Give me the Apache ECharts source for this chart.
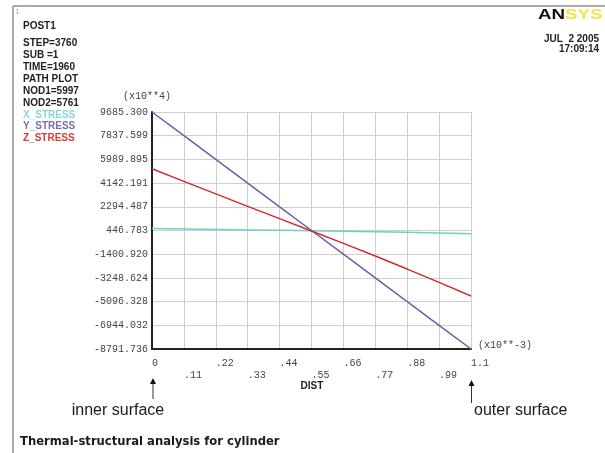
<!DOCTYPE html>
<html>
<head>
<meta charset="utf-8">
<script src="https://cdn.jsdelivr.net/npm/echarts@6/dist/echarts.min.js"></script>
<style>
html,body{margin:0;padding:0;background:#fff;}
#chart{width:605px;height:453px;}
</style>
</head>
<body>
<div id="chart"></div>
<script>
// ---- data ----
var dist = [0, 0.11, 0.22, 0.33, 0.44, 0.55, 0.66, 0.77, 0.88, 0.99, 1.1];
var xStress = [600, 565, 530, 495, 460, 425, 385, 345, 305, 255, 200];
var yStress = [9685.3, 7837.6, 5989.9, 4142.2, 2294.5, 446.8, -1400.9, -3248.6, -5096.3, -6944.0, -8791.7];
var zStress = [5260, 4280, 3300, 2330, 1370, 410, -560, -1540, -2560, -3600, -4660];
var xTickLabels = ['0', '.11', '.22', '.33', '.44', '.55', '.66', '.77', '.88', '.99', '1.1'];
var yTickLabels = ['-8791.736', '-6944.032', '-5096.328', '-3248.624', '-1400.920', '446.783',
                   '2294.487', '4142.191', '5989.895', '7837.599', '9685.300'];
var infoLines = ['STEP=3760', 'SUB =1', 'TIME=1960', 'PATH PLOT', 'NOD1=5997', 'NOD2=5761'];
var seriesNames = ['X_STRESS', 'Y_STRESS', 'Z_STRESS'];
var seriesColors = ['#72cccc', '#6e5ea6', '#d02c2c'];
var legendColors = ['#8ad6d6', '#7c6cb0', '#d83a3a'];

var yMin = -8791.736, yMax = 9685.3;
var yInterval = (yMax - yMin) / 10;
var xMin = 0, xMax = 1.1, xInterval = 0.11;

function pairs(vals) { return dist.map(function (d, i) { return [d, vals[i]]; }); }
function xIdx(v) { return Math.round((v - xMin) / xInterval); }

var mono = 'Liberation Mono';
var chart = echarts.init(document.getElementById('chart'), null, {renderer: 'canvas'});

var graphics = [];
// frame
graphics.push({type: 'line', shape: {x1: 13, y1: 6, x2: 605, y2: 6}, style: {stroke: '#aaaaaa', lineWidth: 2}, silent: true});
graphics.push({type: 'line', shape: {x1: 13, y1: 6, x2: 13, y2: 453}, style: {stroke: '#aaaaaa', lineWidth: 2}, silent: true});
function txt(t, x, y, font, fill, align) {
  graphics.push({type: 'text', x: x, y: y, silent: true,
    style: {text: t, font: font, fill: fill, align: align || 'left', textAlign: align || 'left',
            verticalAlign: 'middle', textVerticalAlign: 'middle'}});
}
txt('1', 15, 12, '8px Liberation Sans', '#66cccc');
txt('POST1', 23, 26, 'bold 10px Liberation Sans', '#222');
infoLines.forEach(function (s, i) { txt(s, 23, 43 + i * 12, 'bold 10px Liberation Sans', '#222'); });
seriesNames.forEach(function (s, i) { txt(s, 23, 115 + i * 11.7, 'bold 10px Liberation Sans', legendColors[i]); });
txt('(x10**4)', 147, 96, '10px ' + mono, '#444', 'center');
txt('(x10**-3)', 478, 345, '10px ' + mono, '#444');
txt('DIST', 312, 386, 'bold 10px Liberation Sans', '#222', 'center');
txt('inner surface', 118, 411, '16px Liberation Sans', '#1a1a1a', 'center');
txt('outer surface', 474, 411, '16px Liberation Sans', '#1a1a1a');
txt('Thermal-structural analysis for cylinder', 20, 442, 'bold 11.6px DejaVu Sans', '#1a1a1a');
txt('JUL  2 2005', 599, 39, 'bold 10px Liberation Sans', '#222', 'right');
txt('17:09:14', 599, 49.5, 'bold 10px Liberation Sans', '#222', 'right');
// logo
graphics.push({type: 'text', x: 538, y: 15, scaleX: 1.25, silent: true,
  style: {text: '{a|AN}{b|SYS}', font: 'bold 15px Liberation Sans', verticalAlign: 'middle', textVerticalAlign: 'middle',
    rich: {a: {fill: '#111', color: '#111', font: 'bold 15px Liberation Sans'},
           b: {fill: '#f2e64a', color: '#f2e64a', font: 'bold 15px Liberation Sans'}}}});
// arrows
function arrow(x, yTip, yEnd) {
  graphics.push({type: 'line', shape: {x1: x, y1: yTip + 4, x2: x, y2: yEnd}, style: {stroke: '#333', lineWidth: 1}, silent: true});
  graphics.push({type: 'polygon', shape: {points: [[x, yTip], [x - 3, yTip + 6], [x + 3, yTip + 6]]}, style: {fill: '#111'}, silent: true});
}
arrow(153, 378, 399);
arrow(471.5, 380, 403);

var option = {
  backgroundColor: '#ffffff',
  animation: false,
  grid: {left: 152, top: 112, width: 319, height: 237, containLabel: false, outerBoundsMode: 'none'},
  xAxis: [{
    type: 'value', min: xMin, max: xMax, interval: xInterval, position: 'bottom',
    axisLine: {show: true, onZero: false, lineStyle: {color: '#222', width: 2}},
    axisTick: {show: false},
    splitLine: {show: true, lineStyle: {color: '#cfcfcf', width: 1}},
    axisLabel: {margin: 9, align: 'left', fontFamily: mono, fontSize: 10, color: '#444',
      formatter: function (v) { var i = xIdx(v); return i % 2 === 0 ? xTickLabels[i] : ''; }}
  }, {
    type: 'value', min: xMin, max: xMax, interval: xInterval, position: 'bottom', gridIndex: 0,
    axisLine: {show: false}, axisTick: {show: false}, splitLine: {show: false},
    axisLabel: {margin: 21, align: 'left', fontFamily: mono, fontSize: 10, color: '#444',
      formatter: function (v) { var i = xIdx(v); return i % 2 === 1 ? xTickLabels[i] : ''; }}
  }],
  yAxis: {
    type: 'value', min: yMin, max: yMax, interval: yInterval,
    axisLine: {show: true, onZero: false, lineStyle: {color: '#222', width: 2}},
    axisTick: {show: false},
    splitLine: {show: true, lineStyle: {color: '#cfcfcf', width: 1}},
    axisLabel: {margin: 4, fontFamily: mono, fontSize: 10, color: '#444',
      formatter: function (v) { return yTickLabels[Math.round((v - yMin) / yInterval)]; }}
  },
  series: [
    {name: seriesNames[0], type: 'line', xAxisIndex: 0, data: pairs(xStress), showSymbol: false, lineStyle: {color: seriesColors[0], width: 1.5}, itemStyle: {color: seriesColors[0]}, z: 3},
    {name: seriesNames[1], type: 'line', xAxisIndex: 0, data: pairs(yStress), showSymbol: false, lineStyle: {color: seriesColors[1], width: 1.5}, itemStyle: {color: seriesColors[1]}, z: 4},
    {name: seriesNames[2], type: 'line', xAxisIndex: 0, data: pairs(zStress), showSymbol: false, lineStyle: {color: seriesColors[2], width: 1.5}, itemStyle: {color: seriesColors[2]}, z: 5}
  ],
  graphic: graphics
};
chart.setOption(option);
</script>
</body>
</html>
